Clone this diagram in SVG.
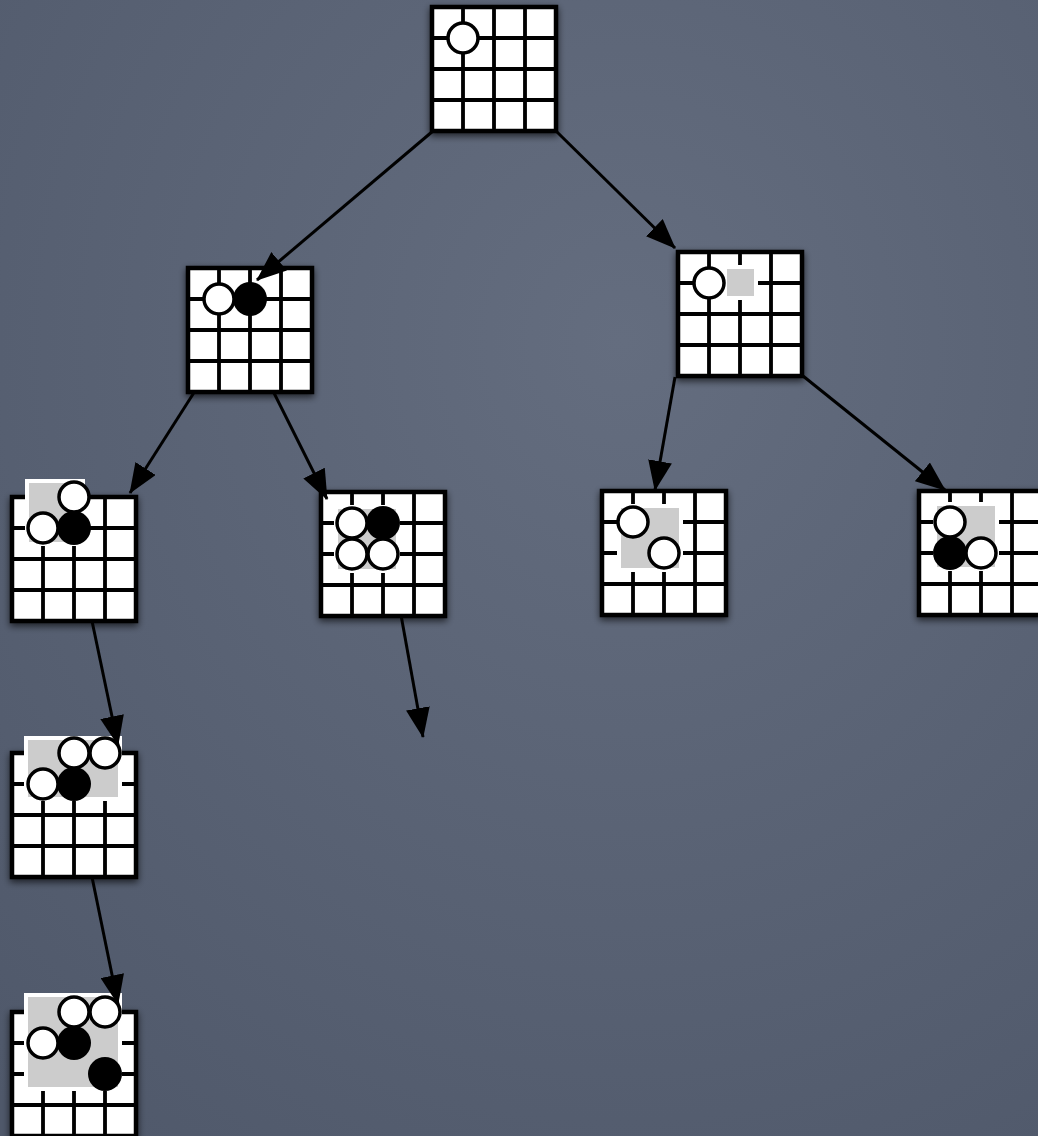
<svg xmlns="http://www.w3.org/2000/svg" xmlns:xlink="http://www.w3.org/1999/xlink" width="1038" height="1136" viewBox="0 0 1038 1136">
<defs>
<radialGradient id="bg" cx="0.6" cy="0.3" r="0.9">
<stop offset="0" stop-color="#646d7f"/>
<stop offset="1" stop-color="#4f586a"/>
</radialGradient>
<filter id="sh" x="-20%" y="-20%" width="140%" height="140%">
<feDropShadow dx="0" dy="3" stdDeviation="3.5" flood-color="#000" flood-opacity="0.65"/>
</filter>
<g id="grid">
<rect x="0" y="0" width="124" height="124" fill="#fff" stroke="#000" stroke-width="4.5"/>
<path d="M31,0V124M62,0V124M93,0V124M0,31H124M0,62H124M0,93H124" stroke="#000" stroke-width="3.8" fill="none"/>
</g>
<marker id="ah" viewBox="0 0 30 24" markerWidth="30" markerHeight="24" markerUnits="userSpaceOnUse" refX="29" refY="12" orient="auto">
<path d="M0,0L30,12L0,24z" fill="#000"/>
</marker>
<style>
.mk{fill:#cccccc;stroke:#fff;stroke-width:8;paint-order:stroke}
.w{fill:#fff;stroke:#000;stroke-width:3.5}
.b{fill:#000}
.c{stroke:#000;stroke-width:3;fill:none;marker-end:url(#ah)}
</style>
</defs>
<rect width="1038" height="1136" fill="url(#bg)"/>

<g id="root" transform="translate(432,7)">
<use xlink:href="#grid" filter="url(#sh)"/>
<circle class="w" cx="31" cy="31" r="15"/>
</g>

<g id="b1" transform="translate(188,268)">
<use xlink:href="#grid" filter="url(#sh)"/>
<circle class="b" cx="62" cy="31" r="17"/>
<circle class="w" cx="31" cy="31" r="15"/>
</g>

<g id="b2" transform="translate(678,252)">
<use xlink:href="#grid" filter="url(#sh)"/>
<rect class="mk" x="49" y="17" width="27" height="27"/>
<circle class="w" cx="31" cy="31" r="15"/>
</g>

<g id="b3" transform="translate(12,497)">
<use xlink:href="#grid" filter="url(#sh)"/>
<rect class="mk" x="17" y="-14" width="52" height="59"/>
<circle class="b" cx="62" cy="31" r="17"/>
<circle class="w" cx="31" cy="31" r="15"/>
<circle class="w" cx="62" cy="0" r="15"/>
</g>

<g id="b5" transform="translate(321,492)">
<use xlink:href="#grid" filter="url(#sh)"/>
<rect class="mk" x="17" y="17" width="58" height="60"/>
<circle class="b" cx="62" cy="31" r="17"/>
<circle class="w" cx="31" cy="31" r="15"/>
<circle class="w" cx="31" cy="62" r="15"/>
<circle class="w" cx="62" cy="62" r="15"/>
</g>

<g id="b_mid" transform="translate(602,491)">
<use xlink:href="#grid" filter="url(#sh)"/>
<rect class="mk" x="19" y="17" width="58" height="60"/>
<circle class="w" cx="31" cy="31" r="15"/>
<circle class="w" cx="62" cy="62" r="15"/>
</g>

<g id="b6" transform="translate(919,491)">
<use xlink:href="#grid" filter="url(#sh)"/>
<rect class="mk" x="18" y="15" width="58" height="61"/>
<circle class="w" cx="31" cy="31" r="15"/>
<circle class="b" cx="31" cy="62" r="17"/>
<circle class="w" cx="62" cy="62" r="15"/>
</g>

<g id="b4" transform="translate(12,753)">
<use xlink:href="#grid" filter="url(#sh)"/>
<rect class="mk" x="16" y="-13" width="90" height="57"/>
<circle class="b" cx="62" cy="31" r="17"/>
<circle class="w" cx="31" cy="31" r="15"/>
<circle class="w" cx="62" cy="0" r="15"/>
<circle class="w" cx="93" cy="0" r="15"/>
</g>

<g id="b7" transform="translate(12,1012)">
<use xlink:href="#grid" filter="url(#sh)"/>
<rect class="mk" x="16" y="-15" width="90" height="90"/>
<circle class="b" cx="62" cy="31" r="17"/>
<circle class="b" cx="93" cy="62" r="17"/>
<circle class="w" cx="31" cy="31" r="15"/>
<circle class="w" cx="62" cy="0" r="15"/>
<circle class="w" cx="93" cy="0" r="15"/>
</g>

<g id="connectors">
<path class="c" d="M433,131L257,280"/>
<path class="c" d="M556,131L675,248"/>
<path class="c" d="M195,391L130,493"/>
<path class="c" d="M273,391L327,499"/>
<path class="c" d="M675,377L655,490"/>
<path class="c" d="M803,376L945,490"/>
<path class="c" d="M92,621L118,745"/>
<path class="c" d="M401,615L423,737"/>
<path class="c" d="M92,877L118,1004"/>
</g>
</svg>
